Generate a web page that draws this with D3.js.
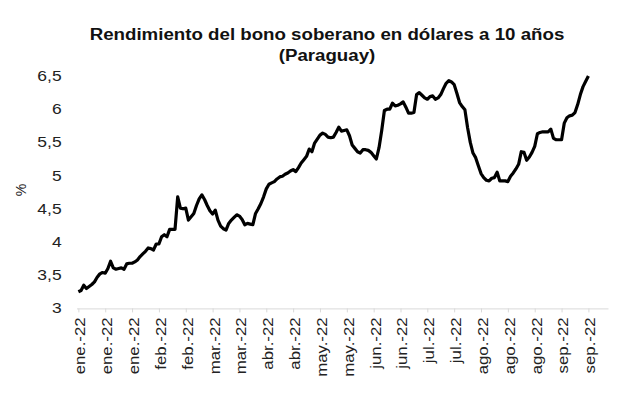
<html>
<script src='https://d3js.org/d3.v7.min.js'></script>
<style>
body { margin: 0; background: white; }
text { font-family: 'Liberation Sans', Arial, sans-serif; }
</style>
<body>
<svg width=617 height=399></svg>
<script>
// yield, one value per business day (jan 3 -> sep 26, 2022)
const yields = [
  3.25, 3.27, 3.35, 3.30, 3.33, 3.36, 3.40, 3.47, 3.52, 3.54,
  3.53, 3.60, 3.71, 3.61, 3.59, 3.60, 3.61, 3.59, 3.67, 3.68,
  3.68, 3.70, 3.73, 3.78, 3.82, 3.86, 3.91, 3.90, 3.88, 3.97,
  3.97, 4.08, 4.11, 4.08, 4.19, 4.19, 4.19, 4.68, 4.51, 4.50,
  4.51, 4.33, 4.38, 4.43, 4.55, 4.65, 4.71, 4.64, 4.55, 4.47,
  4.42, 4.48, 4.33, 4.24, 4.20, 4.18, 4.28, 4.33, 4.37, 4.41,
  4.39, 4.34, 4.26, 4.28, 4.27, 4.26, 4.43, 4.50, 4.58, 4.68,
  4.80, 4.87, 4.89, 4.91, 4.95, 4.98, 4.99, 5.02, 5.04, 5.07,
  5.09, 5.06, 5.12, 5.19, 5.24, 5.29, 5.40, 5.36, 5.49, 5.55,
  5.61, 5.64, 5.62, 5.58, 5.57, 5.58, 5.65, 5.73, 5.67, 5.68,
  5.69, 5.60, 5.46, 5.41, 5.36, 5.34, 5.39, 5.39, 5.38, 5.35,
  5.30, 5.25, 5.42, 5.68, 5.98, 6.00, 6.00, 6.09, 6.05, 6.06,
  6.08, 6.11, 6.03, 5.94, 5.94, 5.95, 6.22, 6.25, 6.21, 6.17,
  6.15, 6.19, 6.20, 6.15, 6.17, 6.22, 6.31, 6.39, 6.43, 6.41,
  6.37, 6.24, 6.10, 6.04, 5.99, 5.72, 5.50, 5.34, 5.27, 5.15,
  5.03, 4.97, 4.93, 4.92, 4.96, 4.97, 5.05, 4.92, 4.92, 4.92,
  4.91, 4.99, 5.04, 5.10, 5.17, 5.36, 5.35, 5.23, 5.28, 5.35,
  5.44, 5.63, 5.65, 5.66, 5.66, 5.66, 5.70, 5.56, 5.54, 5.54,
  5.54, 5.79, 5.87, 5.90, 5.91, 5.95, 6.07, 6.22, 6.34, 6.42,
  6.50
];

// one label every 10 business days
const xLabels = [
  "ene.-22", "ene.-22", "ene.-22", "feb.-22", "feb.-22",
  "mar.-22", "mar.-22", "abr.-22", "abr.-22", "may.-22",
  "may.-22", "jun.-22", "jun.-22", "jul.-22", "jul.-22",
  "ago.-22", "ago.-22", "ago.-22", "sep.-22", "sep.-22"
];
const yTicks = [3, 3.5, 4, 4.5, 5, 5.5, 6, 6.5];

const titleLines = ["Rendimiento del bono soberano en dólares a 10 años", "(Paraguay)"];

const svg = d3.select("svg");

var x = d3.scaleLinear()
  .domain([-0.7, 197.3])
  .range([76.5, 608]);

var y = d3.scaleLinear()
  .domain([3, 6.5])
  .range([308.4, 76]);

const es = d3.formatLocale({decimal: ",", thousands: ".", grouping: [3], currency: ["", "€"]});
const fmt = es.format(".1~f");

// title (the source text is drawn a bit wide)
svg.append("g")
  .selectAll("text")
  .data(titleLines)
  .enter()
  .append("text")
  .attr("transform", (d, i) => "translate(327," + (39.5 + i * 21.5) + ") scale(1.1,1)")
  .attr("text-anchor", "middle")
  .style("font-size", "17px")
  .style("font-weight", "bold")
  .style("fill", "#111")
  .text(d => d);

// x axis
const xAxis = svg.append("g")
  .attr("transform", "translate(0," + y(3) + ")")
  .call(d3.axisBottom(x)
    .tickValues(d3.range(0, yields.length, 10))
    .tickFormat((d, i) => xLabels[i])
    .tickSize(4)
    .tickSizeOuter(0));

xAxis.select(".domain").attr("stroke", "#d9d9d9");
xAxis.selectAll(".tick line").attr("stroke", "#d9d9d9");
xAxis.selectAll("text")
  .attr("transform", "rotate(-90) scale(1.2,1)")
  .attr("x", -7.5)
  .attr("y", 1.5)
  .attr("dy", "0.35em")
  .style("text-anchor", "end")
  .style("font-size", "14px")
  .style("font-family", "'Liberation Sans', Arial, sans-serif")
  .style("fill", "#222");

// y axis, labels only
const yAxis = svg.append("g")
  .attr("transform", "translate(66,0)")
  .call(d3.axisLeft(y)
    .tickValues(yTicks)
    .tickFormat(fmt)
    .tickSize(0)
    .tickPadding(3.5));

yAxis.select(".domain").remove();
yAxis.selectAll("text")
  .attr("transform", "scale(1.25,1)")
  .style("font-size", "14px")
  .style("font-family", "'Liberation Sans', Arial, sans-serif")
  .style("fill", "#222");

svg.append("text")
  .attr("transform", "translate(26,190) rotate(-90)")
  .attr("text-anchor", "middle")
  .style("font-size", "14px")
  .style("fill", "#222")
  .text("%");

// line
svg.append("path")
  .datum(yields)
  .attr("fill", "none")
  .attr("stroke", "#000")
  .attr("stroke-width", 3.2)
  .attr("stroke-linejoin", "round")
  .attr("d", d3.line()
    .x((d, i) => x(i))
    .y(d => y(d)));
</script>
</body>
</html>
